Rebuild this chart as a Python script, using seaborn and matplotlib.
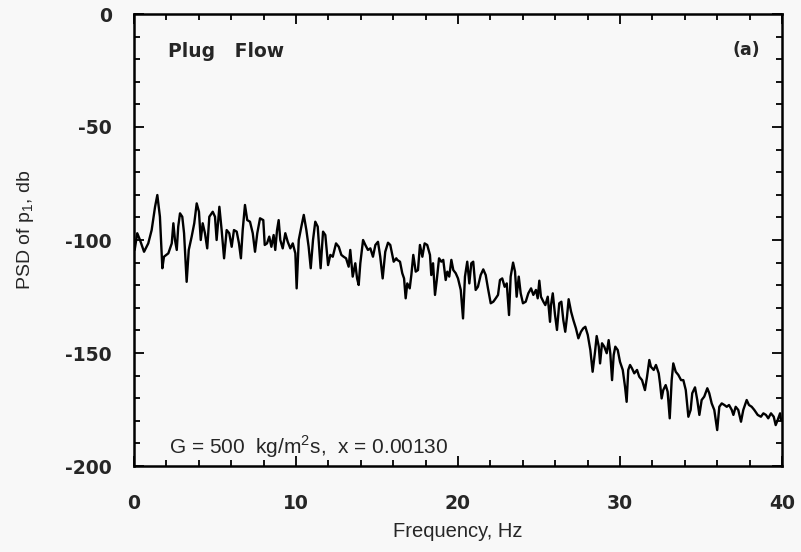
import matplotlib
matplotlib.use("Agg")
import matplotlib.pyplot as plt
import seaborn as sns
import pandas as pd
from matplotlib.ticker import MultipleLocator

# Power spectral density of the pressure signal p1, plug-flow regime
freq_hz = [
    0.04, 0.20, 0.37, 0.62, 0.88, 1.09, 1.30, 1.44, 1.60, 1.75,
    1.85, 2.12, 2.33, 2.43, 2.53, 2.64, 2.73, 2.84, 2.98, 3.09,
    3.25, 3.38, 3.56, 3.72, 3.87, 4.01, 4.12, 4.24, 4.38, 4.52,
    4.65, 4.86, 5.00, 5.10, 5.27, 5.41, 5.56, 5.72, 5.88, 6.03,
    6.17, 6.34, 6.48, 6.60, 6.71, 6.85, 6.99, 7.16, 7.33, 7.47,
    7.61, 7.78, 7.98,
    8.07, 8.21, 8.35, 8.48, 8.62, 8.72, 8.83, 8.93, 9.03, 9.18,
    9.34, 9.49, 9.65, 9.80, 9.96, 10.04, 10.17, 10.33, 10.48, 10.64,
    10.78, 10.91, 11.05, 11.19, 11.34, 11.52, 11.67, 11.81, 11.98, 12.12,
    12.27, 12.47, 12.64, 12.80, 12.94, 13.09, 13.25, 13.35, 13.50, 13.66,
    13.77, 13.87, 13.97, 14.14, 14.28, 14.44, 14.59, 14.75, 14.90, 15.06,
    15.20, 15.35, 15.51, 15.68, 15.82, 16.03, 16.19,
    16.25, 16.42, 16.56, 16.67, 16.77, 16.87, 17.02, 17.12, 17.24, 17.39,
    17.53, 17.65, 17.80, 17.94, 18.10, 18.27, 18.35, 18.46, 18.58, 18.69,
    18.83, 18.97, 19.09, 19.24, 19.34, 19.46, 19.59, 19.71, 19.86, 20.00,
    20.17, 20.31, 20.43, 20.57, 20.70, 20.82, 20.94, 21.09, 21.23, 21.40,
    21.56, 21.71, 21.85, 22.02, 22.18, 22.33, 22.47, 22.59, 22.73, 22.88,
    23.01, 23.15, 23.25, 23.40, 23.52, 23.62, 23.75, 23.87, 24.01, 24.18,
    24.34,
    24.51, 24.65, 24.81, 24.92, 25.02, 25.12, 25.27, 25.39, 25.54, 25.68,
    25.74, 25.85, 25.99, 26.11, 26.25, 26.38, 26.50, 26.62, 26.73, 26.83,
    26.98, 27.12, 27.28, 27.43, 27.59, 27.73, 27.86, 28.01, 28.17, 28.31,
    28.46, 28.56, 28.69, 28.77, 28.89, 29.03, 29.18, 29.30, 29.40, 29.51,
    29.61, 29.71, 29.86, 30.00, 30.17, 30.31, 30.41, 30.51, 30.62, 30.74,
    30.88, 31.05, 31.19, 31.36, 31.54, 31.67, 31.81, 31.91, 32.08, 32.22,
    32.39,
    32.47, 32.57, 32.67, 32.82, 32.94, 33.07, 33.19, 33.29, 33.44, 33.60,
    33.77, 33.91, 34.06, 34.22, 34.36, 34.46, 34.63, 34.77, 34.90, 35.04,
    35.20, 35.39, 35.51, 35.66, 35.82, 36.00, 36.13, 36.28, 36.44, 36.59,
    36.73, 36.90, 37.00, 37.14, 37.30, 37.47, 37.61, 37.82, 37.96, 38.13,
    38.29, 38.50, 38.70, 38.85, 39.01, 39.15, 39.32, 39.49, 39.61, 39.73,
    39.88, 39.94,
]

psd_db = [
    -104.4, -97.0, -100.0, -105.2, -101.5, -95.6, -85.3, -80.1, -89.7, -112.5,
    -107.4, -105.9, -101.5, -92.6, -100.0, -104.4, -94.1, -88.2, -89.7, -97.0,
    -118.5, -104.4, -98.5, -92.6, -83.8, -87.5, -100.0, -92.6, -97.0, -103.7,
    -89.7, -87.5, -89.7, -100.0, -85.3, -95.6, -108.1, -95.6, -97.0, -103.0,
    -95.6, -96.3, -101.5, -108.1, -95.6, -84.5, -91.2, -91.9, -97.0, -105.2,
    -97.0, -90.4, -91.2,
    -102.2, -101.5, -98.5, -103.0, -97.8, -104.4, -95.6, -91.2, -100.0, -103.7,
    -97.0, -100.8, -103.7, -101.5, -105.9, -121.4, -100.0, -94.1, -88.9, -95.6,
    -103.0, -112.5, -100.0, -91.9, -94.1, -112.5, -96.3, -97.8, -111.1, -106.6,
    -107.4, -101.5, -103.0, -106.6, -107.4, -108.1, -111.8, -104.4, -116.2, -110.3,
    -117.0, -119.9, -110.3, -100.0, -102.2, -104.4, -103.7, -107.4, -102.2, -100.8,
    -107.4, -117.0, -105.2, -101.2, -102.2, -109.6, -108.1,
    -108.8, -109.6, -114.7, -117.0, -125.8, -119.2, -121.4, -115.5, -106.6, -114.0,
    -113.3, -102.2, -107.4, -101.5, -102.2, -106.6, -115.5, -110.3, -124.3, -117.7,
    -108.1, -109.6, -108.8, -117.7, -114.0, -116.2, -108.8, -113.3, -114.7, -117.0,
    -122.1, -134.7, -116.2, -109.6, -119.2, -110.3, -109.6, -122.1, -120.7, -115.5,
    -113.0, -115.5, -121.4, -128.0, -127.3, -125.8, -124.3, -117.7, -117.0, -120.7,
    -119.2, -133.2, -116.2, -110.0, -114.0, -125.1, -116.2, -123.6, -128.0, -127.3,
    -123.6,
    -121.4, -124.3, -122.1, -125.8, -118.0, -125.1, -127.3, -128.8, -125.1, -136.2,
    -128.8, -123.6, -133.2, -139.8, -128.0, -127.3, -135.4, -140.6, -133.9, -126.2,
    -131.7, -135.4, -139.1, -143.5, -140.6, -139.1, -138.4, -142.0, -148.7, -158.3,
    -149.4, -142.5, -147.2, -154.6, -145.7, -147.2, -150.1, -144.3, -150.1, -162.0,
    -150.9, -147.2, -148.7, -153.9, -157.5, -164.9, -171.6, -157.5, -155.3, -156.8,
    -159.0, -157.5, -160.5, -162.0, -166.4, -160.5, -153.1, -156.1, -157.5, -155.3,
    -159.0,
    -163.4, -170.1, -166.4, -164.2, -167.1, -178.9, -162.0, -154.6, -158.3, -159.7,
    -162.0, -162.0, -166.4, -178.2, -175.2, -167.8, -165.2, -170.8, -177.4, -170.8,
    -169.3, -165.6, -167.8, -172.3, -175.2, -184.1, -173.8, -172.3, -173.0, -173.8,
    -173.0, -175.2, -177.4, -173.8, -175.2, -180.4, -175.2, -170.8, -173.0, -173.8,
    -175.2, -177.4, -178.2, -176.7, -177.4, -178.9, -176.7, -178.2, -181.9, -179.7,
    -176.7, -179.7,
]

x_ticks = [0, 10, 20, 30, 40]
y_ticks = [0, -50, -100, -150, -200]

sns.set_style("ticks")
plt.rcParams["font.family"] = ["Liberation Sans", "DejaVu Sans"]
plt.rcParams["axes.unicode_minus"] = False

bg = "#f8f8f8"
fig = plt.figure(figsize=(8.01, 5.52), dpi=100, facecolor=bg)
ax = fig.add_axes([134 / 801, 1 - 466 / 552, 648 / 801, 452 / 552])
ax.set_facecolor(bg)

df = pd.DataFrame({"freq": freq_hz, "psd": psd_db})
sns.lineplot(data=df, x="freq", y="psd", ax=ax, color="black",
             linewidth=1.7, estimator=None, sort=False)

ax.set_xlim(0, 40)
ax.set_ylim(-200, 0)
ax.set_xticks(x_ticks)
ax.set_yticks(y_ticks)
ax.xaxis.set_minor_locator(MultipleLocator(2))
ax.yaxis.set_minor_locator(MultipleLocator(10))
ax.tick_params(which="both", direction="in", top=True, right=True,
               width=1.3, color="black")
ax.tick_params(which="major", length=7)
ax.tick_params(which="minor", length=4)
ax.tick_params(axis="x", pad=20)
ax.tick_params(axis="y", pad=16)
for lbl in ax.get_xticklabels() + ax.get_yticklabels():
    lbl.set_fontfamily("DejaVu Sans")
    lbl.set_fontweight("bold")
    lbl.set_fontsize(13.5)

for side in ax.spines.values():
    side.set_linewidth(1.8)
    side.set_color("black")

ax.set_xlabel("Frequency, Hz", fontsize=14.5)
ax.xaxis.set_label_coords(0.5, -0.144)
ax.xaxis.label.set_verticalalignment("center")
ax.set_ylabel("PSD of p$_{\\mathregular{1}}$, db", fontsize=14)
ax.yaxis.set_label_coords(-0.168, 0.522)
ax.yaxis.label.set_verticalalignment("center")

ax.text(0.0525, 0.916, "Plug   Flow", transform=ax.transAxes, ha="left",
        va="center", fontsize=13.5, fontweight="bold", family="DejaVu Sans")
ax.text(0.966, 0.920, "(a)", transform=ax.transAxes, ha="right",
        va="center", fontsize=12.5, fontweight="bold", family="DejaVu Sans")
ax.text(0.054, 0.042, "G = 500  kg/m$^{\\mathregular{2}}$s,  x = 0.00130",
        transform=ax.transAxes, ha="left", va="center", fontsize=15)

fig.savefig("out.png", dpi=100, facecolor=bg)
